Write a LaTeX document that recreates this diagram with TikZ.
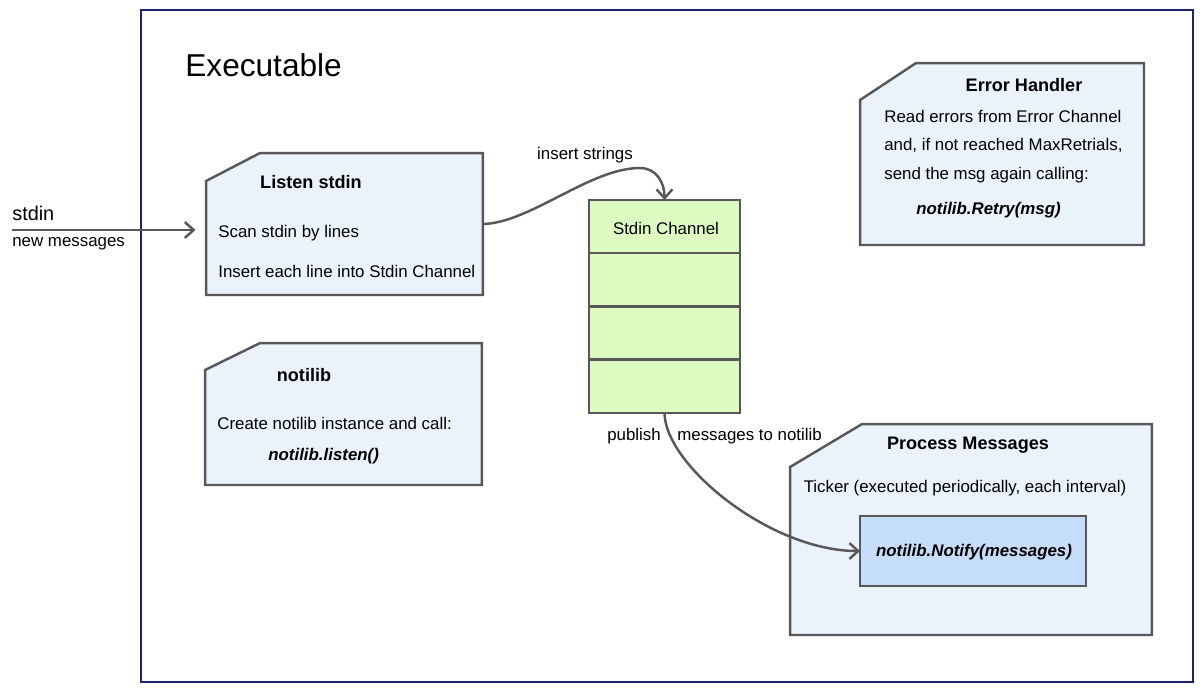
\documentclass[tikz,border=0pt]{standalone}
\usepackage{fontspec}
\setmainfont{Liberation Sans}
\usepackage{tikz}
\usetikzlibrary{arrows.meta,positioning,calc}
\definecolor{notefill}{RGB}{234,242,252}
\definecolor{edgegray}{RGB}{88,88,88}
\definecolor{framenavy}{RGB}{28,34,122}
\definecolor{chanfill}{RGB}{221,250,192}
\definecolor{callfill}{RGB}{197,221,248}
\tikzset{
    notebox/.style={rectangle, outer sep=0pt, inner sep=0pt},
    noteedge/.style={draw=edgegray, line width=1.4pt, fill=notefill, line join=miter},
    cell/.style={rectangle, draw=edgegray, line width=1.4pt, fill=chanfill, minimum width=3.02cm, minimum height=1.065cm, outer sep=0pt, inner sep=0pt},
    callbox/.style={rectangle, draw=edgegray, line width=1.4pt, fill=callfill, minimum width=4.52cm, minimum height=1.4cm, outer sep=0pt},
    txt/.style={inner sep=0pt, font=\fontsize{9.6}{11}\selectfont},
    ttl/.style={inner sep=0pt, font=\fontsize{10.3}{12}\selectfont\bfseries},
    code/.style={inner sep=0pt, font=\fontsize{9.6}{11}\selectfont\bfseries\itshape},
    flow/.style={draw=edgegray, line width=1.4pt, -{Straight Barb[length=5pt,width=9pt]}}
}

\begin{document}
\begin{tikzpicture}[x=0.02cm, y=-0.02cm]
    \useasboundingbox (0,0) rectangle (1200,691);

    % Executable frame
    \node [rectangle, draw=framenavy, line width=1.3pt, minimum width=21.04cm, minimum height=13.44cm, outer sep=0pt] (exe) at (667,346) {};
    \node [anchor=west, inner sep=0pt, font=\fontsize{18}{20}\selectfont] (exelbl) at (185,65) {Executable};

    % Listen stdin
    \node [notebox, minimum width=5.54cm, minimum height=2.84cm] (listen) at (344.5,224) {};
    \draw [noteedge] ([shift={(0,28)}]listen.north west) -- ([shift={(54,0)}]listen.north west) -- (listen.north east) -- (listen.south east) -- (listen.south west) -- cycle;
    \node [ttl] (listen-t) at (311,182) {Listen stdin};
    \node [txt, anchor=west] (listen-a) at (218,233) {Scan stdin by lines};
    \node [txt, anchor=west] (listen-b) at (218,271) {Insert each line into Stdin Channel};

    % notilib
    \node [notebox, minimum width=5.54cm, minimum height=2.84cm] (noti) at (343.5,414) {};
    \draw [noteedge] ([shift={(0,27)}]noti.north west) -- ([shift={(55,0)}]noti.north west) -- (noti.north east) -- (noti.south east) -- (noti.south west) -- cycle;
    \node [ttl] (noti-t) at (304,375) {notilib};
    \node [txt, anchor=west] (noti-a) at (217,423) {Create notilib instance and call:};
    \node [code, anchor=west] (noti-b) at (268,456) {notilib.listen()};

    % Error Handler
    \node [notebox, minimum width=5.68cm, minimum height=3.64cm] (err) at (1002,154) {};
    \draw [noteedge] ([shift={(0,37)}]err.north west) -- ([shift={(56,0)}]err.north west) -- (err.north east) -- (err.south east) -- (err.south west) -- cycle;
    \node [ttl] (err-t) at (1024,85) {Error Handler};
    \node [txt, anchor=west] (err-a) at (884,116) {Read errors from Error Channel};
    \node [txt, anchor=west] (err-b) at (884,145) {and, if not reached MaxRetrials,};
    \node [txt, anchor=west] (err-c) at (884,175) {send the msg again calling:};
    \node [code, anchor=west] (err-d) at (916,210) {notilib.Retry(msg)};

    % Process Messages
    \node [notebox, minimum width=7.24cm, minimum height=4.22cm] (proc) at (971,529.5) {};
    \draw [noteedge] ([shift={(0,43)}]proc.north west) -- ([shift={(72,0)}]proc.north west) -- (proc.north east) -- (proc.south east) -- (proc.south west) -- cycle;
    \node [ttl] (proc-t) at (968,445) {Process Messages};
    \node [txt] (proc-a) at (965,488) {Ticker (executed periodically, each interval)};
    \node [callbox] (notify) at (973,551) {};
    \node [code] (notify-t) at (974,552) {notilib.Notify(messages)};

    % Stdin Channel
    \node [cell] (chan) at (664.5,226.6) {};
    \node [txt] (chan-t) at (666,228) {Stdin Channel};
    \node [cell, below=0pt of chan] (slot1) {};
    \node [cell, below=0pt of slot1] (slot2) {};
    \node [cell, below=0pt of slot2] (slot3) {};

    % Connections
    \coordinate (in) at (12,230);
    \node [anchor=south west, inner sep=0pt, font=\fontsize{11.3}{13}\selectfont] (in-t) at (12,221) {stdin};
    \node [txt, anchor=west] (in-b) at (12,244) {new messages};
    \draw [flow, shorten >=6pt] (in) -- (in -| listen.west);

    \draw [flow] (listen.east) .. controls (530,223) and (590,168) .. (640,168) .. controls (656,168) and (664.5,182) .. (chan.north);
    \node [txt] (ins-t) at (585,155) {insert strings};

    \draw [flow] (slot3.south) .. controls (665,465) and (770,551) .. (notify.west);
    \node [txt] (pub-t) at (634,436) {publish};
    \node [txt, anchor=west] (pub-b) at (677,436) {messages to notilib};
\end{tikzpicture}
\end{document}
